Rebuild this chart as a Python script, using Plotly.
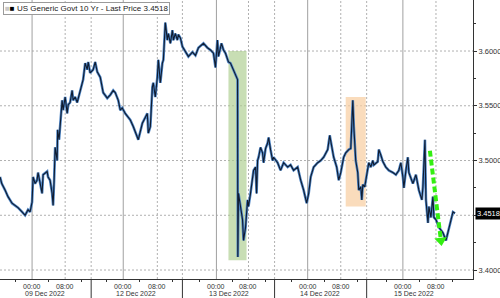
import plotly.graph_objects as go

# x in "session-day" units (0 = start of 09 Dec session), y = yield
x_vals = [0.000,0.019,0.055,0.087,0.131,0.164,0.196,0.240,0.273,0.305,0.327,0.349,0.360,0.382,0.403,0.414,0.436,0.458,0.469,0.513,
          0.523,0.545,0.567,0.578,0.589,0.600,0.622,0.627,0.643,0.665,0.676,0.687,0.709,0.731,0.742,0.763,0.785,0.796,0.818,0.840,
          0.872,0.905,0.927,0.949,0.960,0.981,1.014,1.036,1.058,1.091,1.123,1.167,1.200,1.232,1.254,1.287,1.309,1.330,1.363,1.396,
          1.418,1.450,1.494,1.505,1.549,1.581,1.603,1.614,1.636,1.658,1.668,1.690,1.712,1.723,1.745,1.767,1.778,1.799,1.821,1.832,
          1.854,1.876,1.887,1.908,1.930,1.941,1.963,1.985,2.017,2.050,2.094,2.127,2.159,2.214,2.257,2.290,2.323,2.345,2.366,2.377,
          2.410,2.432,2.454,2.486,2.508,2.541,2.563,2.585,2.588,2.595,2.617,2.639,2.650,2.672,2.694,2.704,2.726,2.748,2.759,2.781,
          2.792,2.803,2.814,2.835,2.857,2.868,2.890,2.912,2.923,2.944,2.966,2.977,3.021,3.053,3.086,3.130,3.162,3.195,3.239,3.272,
          3.304,3.337,3.359,3.381,3.413,3.457,3.490,3.522,3.566,3.588,3.610,3.631,3.664,3.686,3.708,3.730,3.740,3.762,3.795,3.817,
          3.839,3.850,3.871,3.893,3.904,3.926,3.937,3.948,3.969,4.013,4.035,4.057,4.068,4.111,4.122,4.144,4.166,4.198,4.231,4.275,
          4.308,4.340,4.362,4.384,4.395,4.417,4.438,4.449,4.493,4.526,4.558,4.591,4.602,4.624,4.635,4.657,4.667,4.689,4.711,4.722,
          4.744,4.776,4.820,4.853,4.875,4.885,4.918,4.929,4.951]
y_vals = [3.485,3.479,3.473,3.467,3.461,3.459,3.457,3.453,3.450,3.455,3.453,3.462,3.485,3.479,3.482,3.489,3.479,3.470,3.487,3.490,
          3.485,3.482,3.470,3.459,3.482,3.512,3.500,3.528,3.519,3.540,3.555,3.546,3.558,3.543,3.551,3.553,3.564,3.555,3.558,3.553,
          3.564,3.574,3.589,3.583,3.590,3.580,3.583,3.590,3.581,3.576,3.562,3.557,3.560,3.564,3.562,3.555,3.546,3.548,3.543,3.540,
          3.537,3.531,3.521,3.519,3.534,3.540,3.543,3.525,3.531,3.567,3.571,3.558,3.576,3.592,3.571,3.589,3.592,3.626,3.610,3.616,
          3.607,3.619,3.610,3.616,3.610,3.615,3.612,3.604,3.599,3.595,3.599,3.596,3.603,3.607,3.603,3.601,3.598,3.585,3.610,3.595,
          3.607,3.601,3.598,3.590,3.589,3.583,3.578,3.574,3.412,3.470,3.458,3.446,3.427,3.439,3.464,3.458,3.470,3.482,3.491,3.494,
          3.470,3.500,3.503,3.512,3.507,3.498,3.511,3.516,3.521,3.510,3.500,3.503,3.498,3.491,3.498,3.494,3.496,3.491,3.494,3.482,
          3.473,3.461,3.470,3.485,3.494,3.498,3.500,3.503,3.510,3.523,3.512,3.503,3.494,3.482,3.489,3.498,3.503,3.507,3.510,3.511,
          3.555,3.531,3.500,3.489,3.473,3.476,3.464,3.478,3.476,3.498,3.494,3.500,3.496,3.499,3.510,3.505,3.499,3.494,3.491,3.489,
          3.487,3.491,3.498,3.485,3.475,3.491,3.503,3.489,3.479,3.487,3.473,3.464,3.476,3.519,3.464,3.443,3.458,3.448,3.467,3.448,
          3.446,3.439,3.434,3.427,3.434,3.439,3.448,3.453,3.4518]

last_price = 3.4518
series_name = "US Generic Govt 10 Yr - Last Price 3.4518"

day_labels = ["09 Dec 2022", "12 Dec 2022", "13 Dec 2022", "14 Dec 2022", "15 Dec 2022"]
day_centers = [0.49, 1.48, 2.49, 3.48, 4.50]
day_bounds = [0.992, 1.985, 2.988, 3.990]
midnight_pos = [0.349, 1.341, 2.355, 3.348, 4.384]
eight_pos = [0.709, 1.712, 2.704, 3.708, 4.744]
minor_x = [0.169, 0.529, 0.889, 1.161, 1.521, 1.881, 2.175, 2.535, 2.884, 3.168, 3.528, 3.888, 4.204, 4.564, 4.924]

y_ticks = [3.40, 3.45, 3.50, 3.55, 3.60]
y_ticktext = ["3.4000", "", "3.5000", "3.5500", "3.6000"]

green_box = dict(x0=2.486, x1=2.683, y0=3.409, y1=3.600)
orange_box = dict(x0=3.762, x1=3.980, y0=3.458, y1=3.558)
arrow_start = (4.678, 3.509)
arrow_end = (4.798, 3.427)

FONT = "Liberation Sans"
fig = go.Figure()

# glow + core line
fig.add_trace(go.Scatter(x=x_vals, y=y_vals, mode="lines",
                         line=dict(color="#4f86c6", width=2.6), hoverinfo="skip", showlegend=False))
fig.add_trace(go.Scatter(x=x_vals, y=y_vals, mode="lines",
                         line=dict(color="#101c30", width=1.1), showlegend=False))

# dashed green arrow
fig.add_trace(go.Scatter(x=[arrow_start[0], arrow_end[0]], y=[arrow_start[1], arrow_end[1]], mode="lines",
                         line=dict(color="#33ee11", width=4, dash="6px,3px"), showlegend=False))
fig.add_trace(go.Scatter(x=[arrow_end[0]], y=[arrow_end[1]], mode="markers",
                         marker=dict(symbol="triangle-down", size=11, color="#33ee11", angle=-7),
                         showlegend=False))

shapes = []
shapes.append(dict(type="rect", xref="x", yref="y", layer="below", line=dict(width=0),
                   fillcolor="rgba(170,205,140,0.65)", **green_box))
shapes.append(dict(type="rect", xref="x", yref="y", layer="below", line=dict(width=0),
                   fillcolor="rgba(248,205,160,0.7)", **orange_box))
# horizontal dotted grid
for yv in y_ticks:
    shapes.append(dict(type="line", xref="paper", yref="y", x0=0, x1=1, y0=yv, y1=yv, layer="below",
                       line=dict(color="#b0b0b0", width=1, dash="2px,2px")))
# vertical lines
for xv in midnight_pos:
    shapes.append(dict(type="line", xref="x", yref="paper", x0=xv, x1=xv, y0=0, y1=1, layer="below",
                       line=dict(color="#a0a0a0", width=1)))
for xv in eight_pos + day_bounds:
    shapes.append(dict(type="line", xref="x", yref="paper", x0=xv, x1=xv, y0=0, y1=1, layer="below",
                       line=dict(color="#b0b0b0", width=1, dash="2px,2px")))
# day separator ticks below axis
for xv in day_bounds:
    shapes.append(dict(type="line", xref="x", yref="paper", x0=xv, x1=xv, y0=0, y1=-0.07,
                       line=dict(color="#333333", width=1)))

annotations = []
for xv in midnight_pos:
    annotations.append(dict(x=xv, y=0, xref="x", yref="paper", text="00:00", showarrow=False,
                            yanchor="middle", yshift=-7, font=dict(family=FONT, size=7, color="#333")))
for xv in eight_pos:
    annotations.append(dict(x=xv, y=0, xref="x", yref="paper", text="08:00", showarrow=False,
                            yanchor="middle", yshift=-7, font=dict(family=FONT, size=7, color="#333")))
for xv, t in zip(day_centers, day_labels):
    annotations.append(dict(x=xv, y=0, xref="x", yref="paper", text=t, showarrow=False,
                            yanchor="middle", yshift=-14.5, font=dict(family=FONT, size=7, color="#333")))
# last price tag
annotations.append(dict(x=1.0, y=last_price, xref="paper", yref="y", xanchor="left", xshift=2,
                        text=f"{last_price:.4f}", showarrow=False, bgcolor="#000000",
                        font=dict(family=FONT, size=7.5, color="#ffffff"), borderpad=1))
# legend box
annotations.append(dict(x=0.006, y=0.992, xref="paper", yref="paper", xanchor="left", yanchor="top",
                        text='<span style="color:#c8c8c8">■</span><span style="color:#000">■</span> ' + series_name,
                        showarrow=False, bgcolor="#ffffff", bordercolor="#9a9a9a", borderwidth=1, borderpad=1,
                        font=dict(family=FONT, size=8, color="#222")))

fig.update_layout(
    width=500, height=298,
    margin=dict(l=0, r=27, t=0, b=19),
    paper_bgcolor="white", plot_bgcolor="white",
    shapes=shapes, annotations=annotations, showlegend=False,
    xaxis=dict(range=[0, 5.147], showgrid=False, zeroline=False, showline=True, linecolor="#333",
               tickvals=minor_x, ticks="outside", ticklen=2, tickcolor="#333", showticklabels=False),
    yaxis=dict(range=[3.3918, 3.6466], side="right", showgrid=False, zeroline=False, showline=True,
               linecolor="#333", tickvals=y_ticks, ticktext=y_ticktext, ticks="outside", ticklen=3,
               tickcolor="#333", tickfont=dict(family=FONT, size=7.5, color="#333"),
               minor=dict(ticks="outside", ticklen=2, tickcolor="#333", dtick=0.025, tick0=3.375, showgrid=False)),
)

fig.write_html("out.html")
